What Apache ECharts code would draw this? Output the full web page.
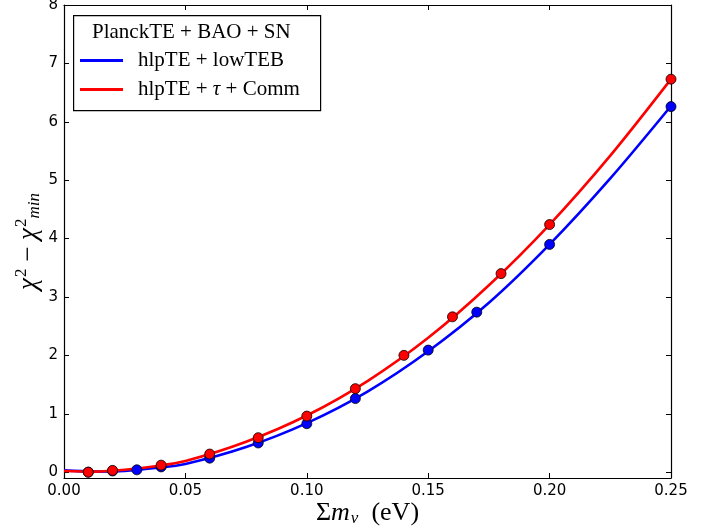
<!DOCTYPE html>
<html>
<head>
<meta charset="utf-8">
<script src="https://cdn.jsdelivr.net/npm/echarts@6/dist/echarts.min.js"></script>
<style>html,body{margin:0;padding:0;background:#fff;}#c{width:719px;height:532px;}</style>
</head>
<body>
<div id="c"></div>
<script>
// Data points
const blueX = [0.01, 0.02, 0.03, 0.04, 0.06, 0.08, 0.10, 0.12, 0.15, 0.17, 0.20, 0.25];
const blueY = [0.00, 0.02, 0.04, 0.09, 0.24, 0.50, 0.83, 1.26, 2.09, 2.74, 3.90, 6.26];
const redX  = [0.01, 0.02, 0.04, 0.06, 0.08, 0.10, 0.12, 0.14, 0.16, 0.18, 0.20, 0.25];
const redY  = [0.00, 0.03, 0.12, 0.31, 0.59, 0.96, 1.43, 2.00, 2.66, 3.40, 4.24, 6.73];
// Fitted curves
const curveX    = [0, 0.0125, 0.025, 0.0375, 0.05, 0.075, 0.10, 0.125, 0.15, 0.175, 0.20, 0.225, 0.25];
const blueCurve = [0.03, 0.01, 0.02, 0.07, 0.14, 0.43, 0.84, 1.38, 2.07, 2.90, 3.90, 5.03, 6.27];
const redCurve  = [0.02, 0.01, 0.04, 0.10, 0.19, 0.52, 0.97, 1.56, 2.30, 3.20, 4.24, 5.42, 6.73];
const seriesNames = ['hlpTE+lowTEB', 'hlpTE+τ+Comm'];
const legendTitle = 'PlanckTE + BAO + SN';
const xTicks = [0, 0.05, 0.10, 0.15, 0.20, 0.25];
const yTicks = [0, 1, 2, 3, 4, 5, 6, 7, 8];

const zip = (xs, ys) => xs.map((x, i) => [x, ys[i]]);
const chart = echarts.init(document.getElementById('c'));
const serif = 'Liberation Serif';
const tickStyle = {show: true, inside: true, length: 5, lineStyle: {color: '#000', width: 1}};
const BLUE = '#0000ff', RED = '#ff0000';

chart.setOption({
  animation: false,
  grid: {left: 64, right: 48, top: 5, bottom: 54, outerBoundsMode: 'none', containLabel: false},
  xAxis: [{
    type: 'value', min: 0, max: 0.25, interval: 0.05,
    axisLine: {show: true, onZero: false, lineStyle: {color: '#000', width: 1.2}},
    axisTick: tickStyle,
    splitLine: {show: false},
    axisLabel: {color: '#000', fontFamily: 'DejaVu Sans', fontSize: 15, margin: 6,
      formatter: v => v.toFixed(2)},
    name: '{s|Σ}{i|m}{sub|ν}{s|  (eV)}',
    nameLocation: 'middle', nameGap: 22, nameMoveOverlap: false,
    nameTextStyle: {rich: {
      s: {fontFamily: serif, fontSize: 26, color: '#000'},
      i: {fontFamily: serif, fontSize: 26, fontStyle: 'italic', color: '#000'},
      sub: {fontFamily: serif, fontSize: 17, fontStyle: 'italic', color: '#000', padding: [10, 0, 0, 1]}
    }}
  }, {
    type: 'value', position: 'top', min: 0, max: 0.25, interval: 0.05,
    axisLine: {show: true, onZero: false, lineStyle: {color: '#000', width: 1.2}},
    axisTick: tickStyle, axisLabel: {show: false}, splitLine: {show: false}
  }],
  yAxis: [{
    type: 'value', min: -0.1, max: 8,
    axisLine: {show: true, onZero: false, lineStyle: {color: '#000', width: 1.2}},
    axisTick: Object.assign({}, tickStyle, {customValues: yTicks}),
    splitLine: {show: false},
    axisLabel: {color: '#000', fontFamily: 'DejaVu Sans', fontSize: 15, margin: 6, customValues: yTicks},
    name: '{i|χ}{sup|2}{s| − }{i|χ}{sup|2}{sub|min}',
    nameLocation: 'middle', nameGap: 20, nameRotate: 90, nameMoveOverlap: false,
    nameTextStyle: {rich: {
      s: {fontFamily: serif, fontSize: 27, color: '#000'},
      i: {fontFamily: serif, fontSize: 27, fontStyle: 'italic', color: '#000'},
      sup: {fontFamily: serif, fontSize: 17, color: '#000', padding: [0, 0, 14, 1]},
      sub: {fontFamily: serif, fontSize: 17, fontStyle: 'italic', color: '#000', padding: [12, 0, 0, 0]}
    }}
  }, {
    type: 'value', position: 'right', min: -0.1, max: 8,
    axisLine: {show: true, onZero: false, lineStyle: {color: '#000', width: 1.2}},
    axisTick: Object.assign({}, tickStyle, {customValues: yTicks}),
    axisLabel: {show: false}, splitLine: {show: false}
  }],
  legend: {
    orient: 'vertical', left: 75, top: 45, itemGap: 8,
    itemWidth: 43, itemHeight: 3,
    data: [{name: seriesNames[0], icon: 'rect'}, {name: seriesNames[1], icon: 'rect'}],
    textStyle: {fontFamily: serif, fontSize: 21, color: '#000', padding: [0, 0, 0, 10],
      rich: {i: {fontFamily: serif, fontSize: 21, fontStyle: 'italic', color: '#000'}}},
    formatter: n => n === seriesNames[0] ? 'hlpTE + lowTEB' : 'hlpTE + {i|τ} + Comm'
  },
  title: {
    text: legendTitle, left: 87, top: 17,
    textStyle: {fontFamily: serif, fontSize: 21, fontWeight: 'normal', color: '#000'}
  },
  graphic: [{
    type: 'rect', left: 73, top: 15, z: 0,
    shape: {width: 247, height: 95},
    style: {fill: '#fff', stroke: '#000', lineWidth: 1.2}
  }],
  series: [
    {name: seriesNames[0], type: 'line', data: zip(curveX, blueCurve), smooth: 0.3,
     showSymbol: false, color: BLUE, lineStyle: {color: BLUE, width: 2.6}, z: 2},
    {name: seriesNames[1], type: 'line', data: zip(curveX, redCurve), smooth: 0.3,
     showSymbol: false, color: RED, lineStyle: {color: RED, width: 2.6}, z: 3},
    {name: 'blue pts', type: 'scatter', data: zip(blueX, blueY), symbolSize: 10,
     itemStyle: {color: BLUE, borderColor: '#000', borderWidth: 0.8, opacity: 1}, z: 4},
    {name: 'red pts', type: 'scatter', data: zip(redX, redY), symbolSize: 10,
     itemStyle: {color: RED, borderColor: '#000', borderWidth: 0.8, opacity: 1}, z: 5}
  ]
});
</script>
</body>
</html>
